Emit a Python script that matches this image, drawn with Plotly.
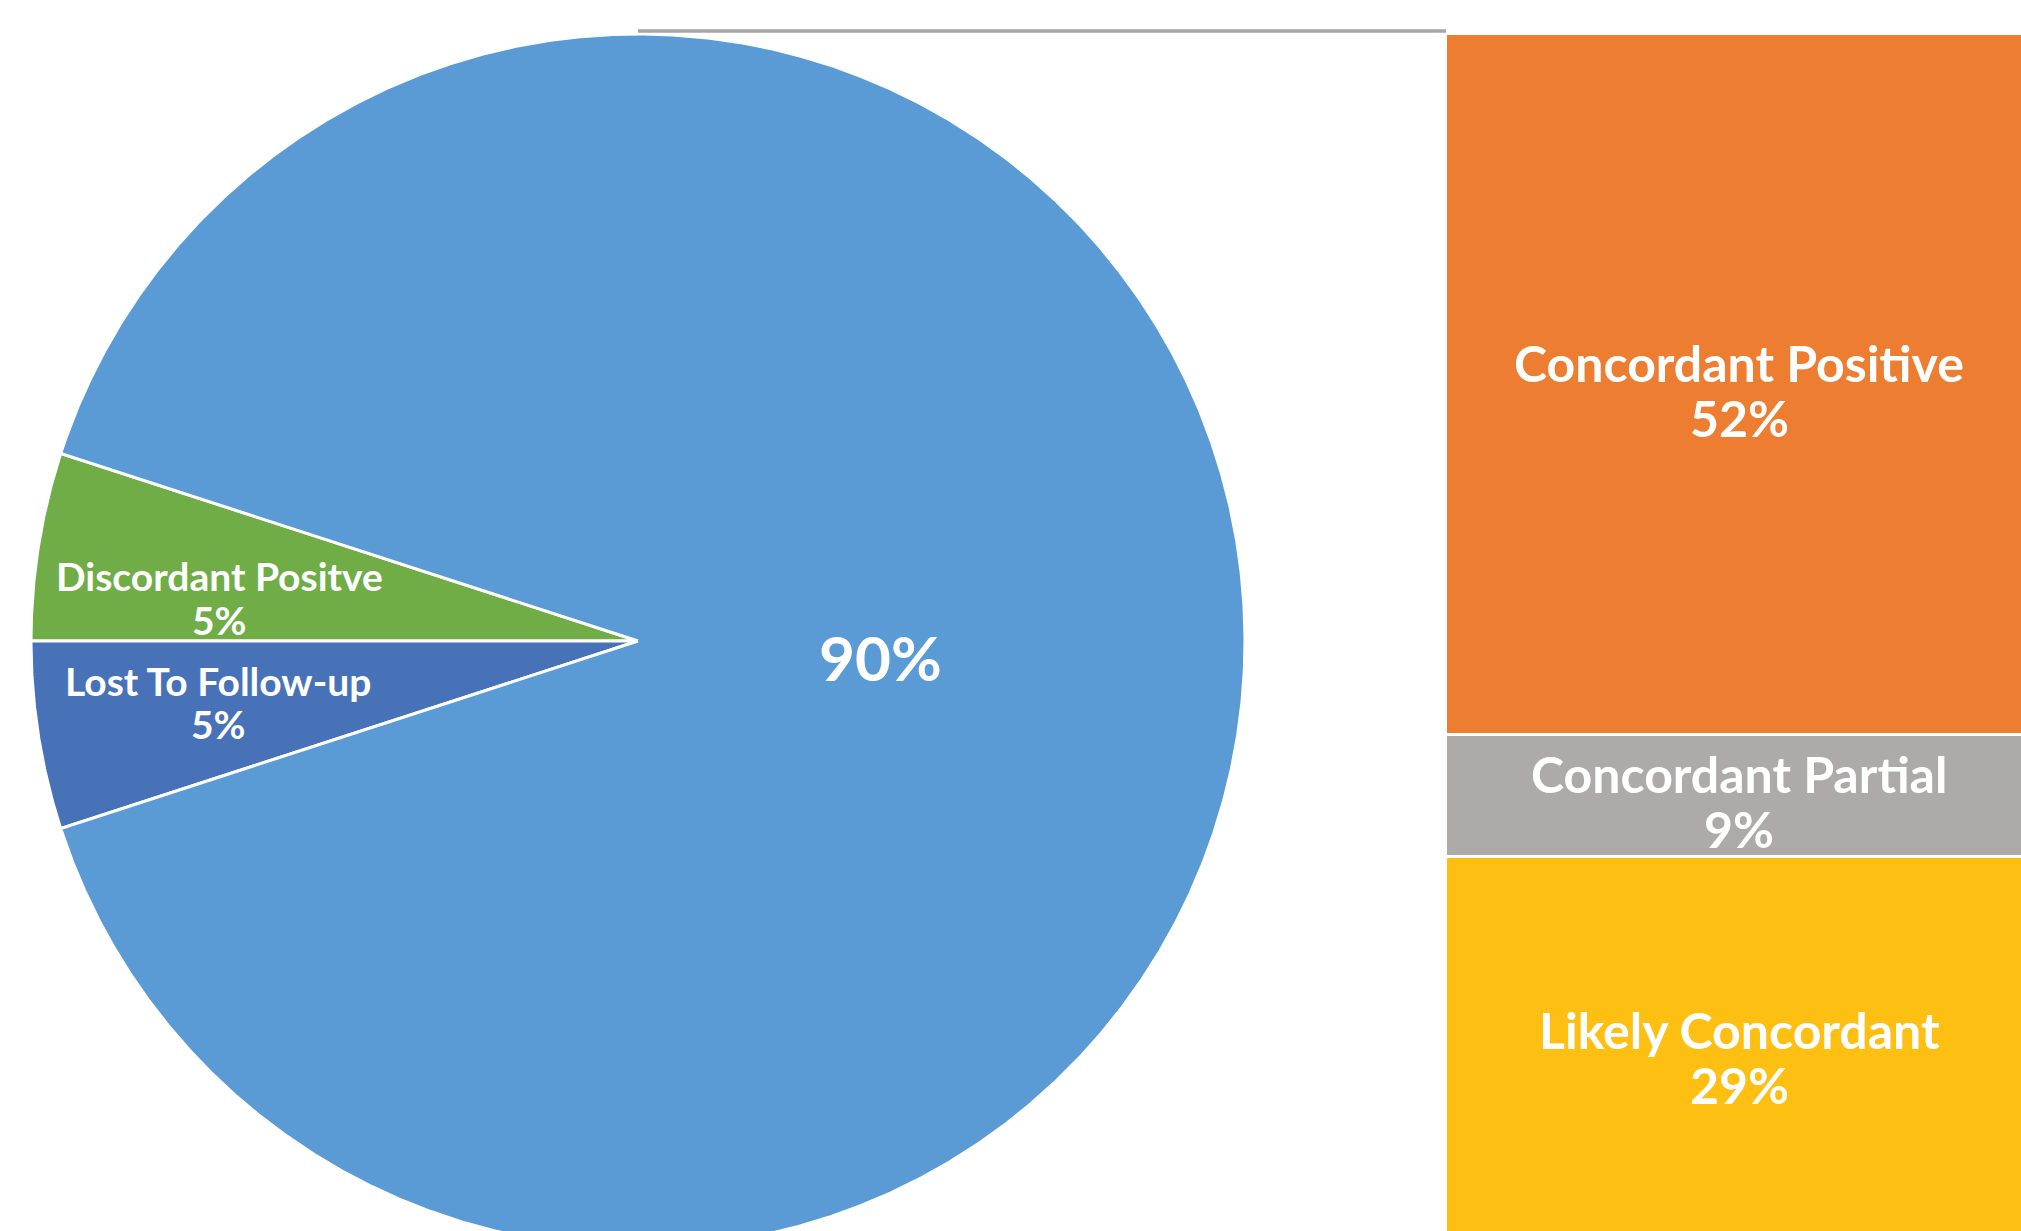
import numpy as np
import plotly.graph_objects as go

# Primary split of all cases (pie)
pie_labels = ["Discordant Positve", "Lost To Follow-up", "Other"]
pie_values = [5, 5, 90]
pie_colors = ["#70AD47", "#4872B8", "#5B9BD5"]

# Breakdown of the 90% "Other" slice (stacked bar, bottom to top)
bar_labels = ["Likely Concordant", "Concordant Partial", "Concordant Positive"]
bar_values = [29, 9, 52]
bar_colors = ["#FCBF12", "#AEAAAA", "#ED7D31"]

# ---- layout geometry (pixels) ----
W, H = 2021, 1231
CX, CY, R_PX = 638, 641, 607      # pie centre and radius
BAR_LEFT = 1446                   # left edge of the breakdown bar
FONT = "Lato"
WHITE_BOLD = dict(family=FONT, color="white", weight="bold")

fig = go.Figure()

# ---- pie drawn as filled wedges in unit-circle coordinates ----
total = sum(pie_values)
start = 180 - 360 * pie_values[0] / total   # first wedge ends on the left horizontal
angle = start
for lab, val, col in zip(pie_labels, pie_values, pie_colors):
    sweep = 360 * val / total
    th = np.radians(np.linspace(angle, angle + sweep, max(int(sweep * 4), 8)))
    xs = np.concatenate([[0], np.cos(th), [0]])
    ys = np.concatenate([[0], np.sin(th), [0]])
    fig.add_trace(go.Scatter(
        x=xs, y=ys, mode="lines", fill="toself", fillcolor=col,
        line=dict(color="white", width=3), hoverinfo="skip",
        showlegend=False, xaxis="x", yaxis="y", name=lab))
    angle += sweep

# ---- stacked breakdown bar ----
for lab, val, col in zip(bar_labels, bar_values, bar_colors):
    fig.add_trace(go.Bar(
        x=[0.5], y=[val], width=1,
        marker=dict(color=col, line=dict(color="white", width=3)),
        hoverinfo="skip", showlegend=False, xaxis="x2", yaxis="y2", name=lab))

# two-line labels centred on each bar segment
base = 0
for lab, val in zip(bar_labels, bar_values):
    mid = base + val / 2
    for txt, shift in ((lab, 22), (f"{val}%", -33)):
        fig.add_annotation(x=0.5, y=mid, xref="x2", yref="y2", text=txt, yshift=shift,
                           showarrow=False, xanchor="center", yanchor="middle",
                           font=dict(size=50, **WHITE_BOLD))
    base += val

# connector from top of pie to top of bar
bar_left_u = (BAR_LEFT - CX) / R_PX
fig.add_trace(go.Scatter(
    x=[0, bar_left_u], y=[1 + 3 / R_PX] * 2, mode="lines",
    line=dict(color="#A5A5A5", width=3.5), hoverinfo="skip",
    showlegend=False, xaxis="x", yaxis="y"))

# ---- pie labels (pixel anchor points converted to pie units) ----
def pu(px, py):
    return (px - CX) / R_PX, (CY - py) / R_PX

pie_text = [
    (pu(880, 657), f"{pie_values[2]}%", 62),
    (pu(219, 576), pie_labels[0], 39),
    (pu(219, 620), f"{pie_values[0]}%", 39),
    (pu(218, 681), pie_labels[1], 39),
    (pu(218, 724), f"{pie_values[1]}%", 39),
]
for (ax_, ay_), txt, size in pie_text:
    fig.add_annotation(x=ax_, y=ay_, xref="x", yref="y", text=txt,
                       showarrow=False, xanchor="center", yanchor="middle",
                       font=dict(size=size, **WHITE_BOLD))

# bar axis scaled so the full stack spans the pie diameter
bar_total = sum(bar_values)
ppu = 2 * R_PX / bar_total
top_gap = CY - R_PX
y2_top = bar_total + top_gap / ppu
y2_bot = bar_total - (H - top_gap) / ppu

hidden = dict(visible=False, showgrid=False, zeroline=False, fixedrange=True)
fig.update_layout(
    width=W, height=H, margin=dict(l=0, r=0, t=0, b=0),
    paper_bgcolor="white", plot_bgcolor="rgba(0,0,0,0)",
    barmode="stack", bargap=0,
    xaxis=dict(range=[-CX / R_PX, (W - CX) / R_PX], domain=[0, 1], **hidden),
    yaxis=dict(range=[-(H - CY) / R_PX, CY / R_PX], domain=[0, 1], **hidden),
    xaxis2=dict(range=[0, 0.98], domain=[BAR_LEFT / W, 1], anchor="y2", **hidden),
    yaxis2=dict(range=[y2_bot, y2_top], domain=[0, 1], anchor="x2", **hidden),
)

fig.write_html("out.html", config={"displayModeBar": False})
